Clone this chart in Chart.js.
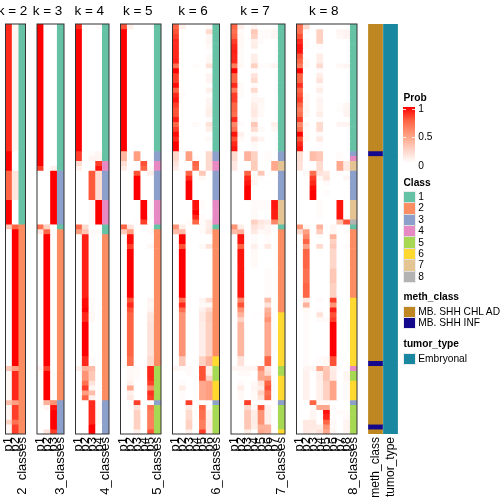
<!DOCTYPE html>
<html lang="en">
<head>
<meta charset="UTF-8">
<title>Consensus classes k = 2 to 8</title>
<script src="https://cdn.jsdelivr.net/npm/chart.js"></script>
<style>
    body { margin: 0; background: #fff; font-family: "Liberation Sans", Arial, sans-serif; color: #000; }
    canvas { position: absolute; top: 0; }
    .lg { position: absolute; white-space: nowrap; line-height: 12px; font-size: 10.2px; }
    .lg.head { font-weight: bold; font-size: 10.2px; }
    .sw { position: absolute; width: 11px; height: 10.4px; outline: 1px solid rgba(0,0,0,0.07); }
</style>
</head>
<body>
<script>
// every row is [number of samples, p1 .. pk, class]
const k2Rows = [
    [26,.9,.05,1],[4,1,0,1],[6,.75,.13,1],[5,1,0,1],[1,.3,.75,2],[28,0,1,2],[1,.3,.5,2],
    [6,.04,.9,2],[1,.35,.5,2],[3,.05,.85,2],[1,.25,.7,2],[2,.05,.85,2]
];
const k3Rows = [
    [29,1,0,0,1],[1,.85,0,.08,1],[11,0,0,1,3],[1,.7,.25,0,1],[1,.12,.75,0,2],[27,0,1,0,2],
    [1,.05,.85,0,2],[6,0,1,0,2],[1,0,.4,.55,3],[1,0,.05,.95,3],[4,0,0,1,3],[1,0,.15,.85,3]
];
const k4Rows = [
    [1,.9,0,0,.02,1],[25,1,0,0,0,1],[1,.85,0,.02,.05,1],[1,.85,0,.06,.06,1],[1,.2,0,0,.85,4],
    [1,.08,0,0,.95,4],[6,0,0,.78,.18,3],[5,0,0,.02,1,4],[1,.75,.2,0,0,1],[1,.5,.3,.03,.03,1],
    [13,0,.92,.01,0,2],[2,0,.97,.02,0,2],[1,0,1,.02,0,2],[2,0,.9,.04,0,2],[7,0,1,0,0,2],
    [2,0,.9,.02,0,2],[1,.08,.4,.35,0,2],[2,0,.55,.3,0,2],[1,0,.7,.15,0,2],[1,0,.85,.05,0,2],
    [1,0,.5,.35,0,2],[1,0,.75,.08,0,2],[2,0,0,.9,.03,3],[3,0,0,.9,.04,3],[2,0,0,1,0,3]
];
const k5Rows = [
    [1,.8,.08,0,0,0,1],[25,1,0,0,0,0,1],[2,.38,0,.5,0,0,3],[1,.18,0,0,.8,0,4],[1,.1,0,0,.75,.03,4],
    [1,0,0,.8,0,.08,3],[5,0,0,1,0,0,3],[4,0,0,0,1,.02,4],[1,0,0,.01,.85,0,4],[1,.75,.15,0,0,.01,1],
    [1,.28,.5,0,0,.03,2],[2,0,.97,0,0,0,2],[1,0,.85,0,0,.04,2],[10,0,1,0,0,0,2],[1,0,.8,0,0,.06,2],
    [1,0,.9,0,0,.04,2],[1,0,.8,0,0,.06,2],[2,0,.75,0,0,.13,2],[7,0,.75,0,0,.15,2],[2,0,.7,0,0,.2,2],
    [1,0,.03,.03,0,.9,5],[2,0,.04,.02,0,.9,5],[1,0,.08,0,0,.85,5],[1,0,.45,0,0,.6,5],[1,0,.07,0,0,.88,5],
    [1,0,.12,0,0,.85,5],[1,0,0,.85,0,0,3],[1,0,.02,.15,0,.7,5],[4,0,0,.25,0,.65,5],[1,0,0,.08,0,.8,5]
];
const k6Rows = [
    [1,.75,.08,0,0,0,.03,1],[1,.8,0,0,0,0,.2,1],[1,.85,0,0,0,0,.05,1],[1,.9,0,0,0,0,.05,1],
    [1,.9,0,0,0,0,.03,1],[1,.9,0,0,0,0,.01,1],[1,.9,0,0,0,0,.03,1],[1,.92,0,0,0,0,.04,1],
    [1,.7,0,0,.02,0,.15,1],[1,1,0,0,0,0,0,1],[2,.85,0,0,0,0,.06,1],[1,.97,0,0,0,0,.01,1],
    [1,.75,0,0,0,0,.08,1],[1,.9,.02,0,0,0,.01,1],[1,.95,0,0,0,0,.05,1],[1,.85,0,0,0,0,.06,1],
    [2,.8,0,0,0,0,.08,1],[1,.93,0,0,0,0,.02,1],[1,.75,0,0,.03,0,.15,1],[1,.85,0,0,0,0,.1,1],
    [1,.97,0,0,0,0,0,1],[1,.9,0,0,0,0,.03,1],[2,1,0,0,0,0,0,1],
    [1,.22,0,.5,0,0,.2,3],[1,.22,0,.5,.02,0,.2,3],[1,.15,0,0,.75,0,.2,4],[1,.1,0,0,.7,0,.2,4],
    [1,0,0,.75,0,.3,0,3],[1,0,0,.9,0,.04,0,3],[4,0,0,1,0,0,0,3],[2,0,0,0,.95,.02,0,4],
    [1,0,0,0,1,0,0,4],[1,0,0,0,.9,.02,0,4],[1,0,0,.02,.75,.02,.1,4],[1,.55,.1,0,0,.02,.1,1],
    [1,.35,.35,0,0,.03,.13,2],[2,0,1,0,0,0,0,2],[1,0,.8,0,0,.03,.15,2],[10,0,1,0,0,0,0,2],
    [1,0,.7,0,0,.05,.2,2],[1,0,.9,0,0,.03,.04,2],[1,0,.7,0,0,.08,.2,2],[2,0,.55,0,0,.12,.27,2],
    [7,0,.55,0,0,.1,.25,2],[2,0,.3,0,0,.25,.4,6],[1,.05,.03,.03,0,.8,.1,5],[1,0,0,.03,0,.8,.1,5],
    [1,0,0,0,0,.8,.25,5],[1,0,.02,0,0,.45,.5,6],[1,0,.1,0,0,.45,.5,6],[2,0,.02,0,0,.45,.5,6],
    [1,0,0,.85,0,0,0,3],[1,0,0,.12,0,.75,.03,5],[2,0,0,.2,0,.7,.1,5],[2,0,0,.25,0,.65,.12,5],
    [1,0,0,.08,0,.85,.1,5]
];
const k7Rows = [
    [1,.75,.08,0,.05,0,0,0,1],[1,.7,.02,0,.3,.02,.02,.05,1],[1,.75,.04,0,.25,.02,.02,.05,1],
    [1,.85,.04,0,.08,.02,0,0,1],[1,.9,.03,0,.1,0,0,0,1],[1,.92,.02,0,.01,0,0,0,1],
    [2,.9,.02,0,.1,0,0,0,1],[1,.65,.04,0,.25,.02,.02,.06,1],[1,1,0,0,.02,0,0,0,1],
    [1,.75,0,0,.15,0,0,0,1],[1,.75,0,0,.2,0,0,0,1],[1,.9,.03,0,.03,0,0,0,1],
    [1,.65,.02,0,.2,0,0,.01,1],[1,.85,.02,0,.04,0,0,0,1],[1,.85,0,0,.05,.05,0,0,1],
    [1,.75,0,0,.1,.03,0,0,1],[1,.75,0,0,.12,.03,0,0,1],[1,.7,0,0,.12,.03,0,0,1],
    [1,.9,.01,0,.06,0,0,0,1],[1,.6,.02,0,.3,0,0,.08,1],[1,.7,0,0,.2,.03,0,.04,1],
    [1,.95,.08,0,.03,0,0,0,1],[1,.8,.03,0,.15,.06,0,0,1],[1,.9,0,0,.04,0,0,0,1],[1,.95,0,0,.02,0,0,0,1],
    [2,.2,0,.4,.25,0,.02,0,3],[2,.12,0,0,.28,0,0,.45,7],[1,0,0,.75,0,.3,0,0,3],
    [1,0,0,.9,.04,.02,0,0,3],[1,0,0,.95,.05,0,.01,0,3],[3,0,0,1,0,0,0,0,3],
    [2,0,0,0,.02,.02,.02,.95,7],[2,0,0,0,.03,0,0,.93,7],[1,0,0,0,.25,.13,.1,.6,7],
    [1,.55,.1,0,.15,.1,.05,0,1],[1,.35,.4,0,.12,.03,.05,0,2],[2,0,.95,0,.02,0,.02,0,2],
    [1,0,.75,0,.08,.01,.12,0,2],[4,0,.95,0,.03,0,0,0,2],[6,0,.95,0,0,0,.02,0,2],
    [1,0,.6,0,0,0,.35,0,2],[1,0,.8,0,0,0,.15,0,2],[1,0,.55,0,0,0,.4,0,2],
    [1,0,.4,0,.01,.01,.45,0,6],[1,0,.25,0,0,0,.55,0,6],[7,0,.38,0,0,0,.45,0,6],[2,0,.15,0,0,0,.75,0,6],
    [1,.05,.05,.05,.05,.6,.15,0,5],[1,0,.03,.03,0,.45,.2,0,5],[1,0,0,0,0,.45,.5,0,6],
    [1,0,.03,0,.03,.15,.75,0,6],[1,0,.1,0,.05,.1,.8,0,6],[1,0,.04,0,.03,.25,.7,0,6],
    [1,0,.03,0,.03,.15,.75,0,6],[1,0,0,.85,0,0,0,0,3],[1,0,0,.2,.04,.8,.08,0,5],
    [3,0,0,.3,.1,.55,.08,0,5],[1,0,0,.3,.1,.4,.4,0,5],[1,0,0,.1,0,.45,.4,0,6]
];
const k8Rows = [
    [1,.7,.2,0,0,0,0,0,0,1],[1,.7,.02,0,.25,0,0,.05,.06,1],[1,.8,0,0,.25,0,0,.04,.06,1],
    [1,.9,.03,0,.25,0,0,0,0,1],[1,.95,.03,0,.02,0,0,0,0,1],[1,.95,0,0,.01,0,0,0,0,1],
    [1,.8,0,0,.1,0,0,0,0,1],[1,.75,.03,0,.1,0,0,0,0,1],[1,.65,.04,0,.2,0,0,.04,.05,1],
    [1,1,0,0,.02,0,0,0,0,1],[1,.75,.01,0,.1,0,0,0,0,1],[1,.75,0,0,.15,0,0,0,0,1],
    [1,.88,0,0,.03,0,0,0,0,1],[1,.75,0,0,.1,0,0,0,0,1],[1,.8,.03,0,.02,0,0,0,0,1],
    [1,.85,.03,0,.06,0,0,0,0,1],[1,.75,.04,0,.05,0,0,.01,.05,1],[1,.65,.05,0,.06,0,0,.02,.06,1],
    [1,.7,.04,0,.1,0,0,0,.06,1],[1,.85,0,0,.02,0,0,0,0,1],[1,.6,.05,0,.2,0,0,.06,.06,1],
    [1,.7,.02,.01,.2,0,0,0,0,1],[1,1,.02,0,.03,0,0,0,0,1],[1,.8,.04,0,.12,0,0,0,0,1],
    [1,.9,0,0,.02,0,0,0,0,1],[1,.95,0,0,.01,0,0,0,0,1],
    [1,.18,0,.35,.3,0,0,.02,0,3],[1,.18,0,.35,.3,0,0,.02,0,4],[2,.15,0,0,.2,0,0,.45,.12,7],
    [1,0,.04,.7,.15,.12,0,.02,0,3],[1,0,0,.85,.04,.15,0,0,.05,3],[1,0,0,.9,0,.03,0,0,0,3],
    [1,0,0,.97,0,0,0,0,0,3],[1,0,0,1,0,.02,0,0,0,3],[1,0,0,1,0,0,0,0,0,3],
    [4,0,0,0,.02,0,0,.95,0,7],[1,0,0,0,0,0,0,.33,.8,8],[1,.55,.05,0,.4,0,.05,0,0,1],
    [1,.2,.5,0,.27,0,.05,0,.02,2],[1,0,.6,0,.02,0,.4,0,0,2],[1,0,.75,0,0,0,.25,0,0,2],
    [1,0,.5,0,.2,0,.3,0,.02,2],[4,0,.75,0,0,0,.22,0,0,2],[3,0,.7,0,0,0,.3,0,0,2],[3,0,.75,0,0,0,.25,0,0,2],
    [1,0,.12,0,.02,0,.85,0,0,6],[1,0,.4,0,0,0,.55,0,0,6],[1,0,.04,0,.02,0,.93,0,0,6],
    [1,0,.02,0,.15,0,.8,0,0,6],[1,0,.02,0,.03,.02,.85,0,0,6],[7,0,.02,0,0,0,1,0,0,6],
    [2,0,.02,0,.02,.04,.8,0,0,6],[1,0,.05,.05,.45,.3,.1,.02,0,4],[2,0,.07,0,.1,.32,.12,0,.05,5],
    [4,0,.07,0,.08,.25,.47,0,.03,6],[1,0,0,.75,.03,.03,0,0,0,3],[1,0,0,.02,.45,.45,.02,0,0,5],
    [1,0,0,.05,0,.95,0,.02,.02,5],[1,0,0,.05,0,.9,0,0,.03,5],[1,0,.12,.12,0,.75,.03,0,.06,5],
    [1,0,.12,.12,.1,.55,.03,0,.06,5],[1,0,.12,.1,.15,.45,.05,0,.06,5]
];
const kValues = [2, 3, 4, 5, 6, 7, 8];
const methBlocks = [26, 1, 42, 1, 12, 1, 1];
const methClasses = [0, 1, 0, 1, 0, 1, 0];
const annotationNames = ["meth_class", "tumor_type"];
const classLabels = ["1", "2", "3", "4", "5", "6", "7", "8"];
const methLabels = ["MB. SHH CHL AD", "MB. SHH INF"];
const tumorLabels = ["Embryonal"];
const probTicks = ["1", "0.5", "0"];

const classColors = ["#66C2A5", "#FC8D62", "#8DA0CB", "#E78AC3", "#A6D854", "#FFD92F", "#E5C494", "#B3B3B3"];
const methColors = ["#BE8721", "#14098C"];
const tumorColor = "#19879F";
const probStops = [[255,255,255], [255,209,195], [255,158,129], [255,101,68], [255,0,0]];

const TOTAL = 84;
const TOP = 24, BOTTOM_H = 70, HEIGHT = 504;
const panelBoxes = [[5.5,25.5],[37,64],[75.5,109],[120.5,161],[172.5,219.5],[231,285],[296.5,357]];

function probColor(v) {
    const t = v * (probStops.length - 1);
    const i = Math.min(Math.floor(t), probStops.length - 2);
    const f = t - i;
    const c = probStops[i].map((a, n) => Math.round(a + (probStops[i + 1][n] - a) * f));
    return "rgb(" + c.join(",") + ")";
}

// frame round the heatmap, and title a bit left of the panel centre like the original
const framePlugin = {
    id: "frame",
    afterLayout(chart) {
        if (chart.titleBlock) {
            chart.titleBlock.left -= 23;
            chart.titleBlock.right += 17;
        }
    },
    afterDatasetsDraw(chart) {
        const a = chart.chartArea, ctx = chart.ctx;
        ctx.save();
        ctx.strokeStyle = "#333";
        ctx.lineWidth = 1;
        ctx.strokeRect(a.left, a.top, a.right - a.left, a.bottom - a.top);
        ctx.restore();
    }
};

function addCanvas(left, width) {
    const c = document.createElement("canvas");
    c.width = width;
    c.height = HEIGHT;
    c.style.left = left + "px";
    document.body.appendChild(c);
    return c;
}

function axisOptions(fontSize) {
    return {
        x: {
            stacked: true,
            grid: { display: false, drawTicks: false },
            border: { display: false },
            ticks: { autoSkip: false, maxRotation: 90, minRotation: 90, padding: 3, color: "#000",
                     font: { family: "Liberation Sans", size: fontSize } },
            afterFit(s) { s.height = BOTTOM_H; s.paddingLeft = 0; s.paddingRight = 0; }
        },
        y: { stacked: true, reverse: true, min: 0, max: TOTAL, display: false }
    };
}

// heatmap panels, one stacked bar per column, one dataset per block of rows
kValues.forEach((k, n) => {
    const rows = [k2Rows, k3Rows, k4Rows, k5Rows, k6Rows, k7Rows, k8Rows][n];
    const box = panelBoxes[n];
    const labels = [];
    for (let i = 1; i <= k; i++) labels.push("p" + i);
    labels.push(k + "_classes");
    const cLeft = Math.max(0, Math.floor(box[0]) - 12);
    const cRight = Math.ceil(box[1]) + (n === 0 ? 2 : 8);
    const datasets = rows.map(r => ({
        data: labels.map(() => r[0]),
        backgroundColor: r.slice(1).map((v, i) => i === k ? classColors[v - 1] : probColor(v)),
        borderWidth: 0,
        barPercentage: 1,
        categoryPercentage: 1
    }));
    new Chart(addCanvas(cLeft, cRight - cLeft), {
        type: "bar",
        data: { labels: labels, datasets: datasets },
        plugins: [framePlugin],
        options: {
            responsive: false,
            animation: false,
            devicePixelRatio: 1,
            layout: { padding: { left: box[0] - cLeft, right: cRight - box[1], top: 0, bottom: 0 } },
            plugins: {
                legend: { display: false },
                tooltip: { enabled: false },
                title: { display: true, text: "k = " + k, color: "#000",
                         font: { family: "Liberation Sans", size: 13.5, weight: "normal" },
                         padding: { top: 3, bottom: 4.8 } }
            },
            scales: axisOptions(13)
        }
    });
});

// annotation columns
const annDatasets = methBlocks.map((count, i) => ({
    data: [count, count],
    backgroundColor: [methColors[methClasses[i]], tumorColor],
    borderWidth: 0,
    barPercentage: 0.94,
    categoryPercentage: 1,
    inflateAmount: 0.33
}));
new Chart(addCanvas(360, 50), {
    type: "bar",
    data: { labels: annotationNames, datasets: annDatasets },
    options: {
        responsive: false,
        animation: false,
        devicePixelRatio: 1,
        layout: { padding: { left: 8, right: 12, top: TOP, bottom: 0 } },
        plugins: { legend: { display: false }, tooltip: { enabled: false } },
        scales: axisOptions(12)
    }
});

// legends on the right
function text(str, x, y, head) {
    const d = document.createElement("div");
    d.className = head ? "lg head" : "lg";
    d.textContent = str;
    d.style.left = x + "px";
    d.style.top = (y - 6) + "px";
    document.body.appendChild(d);
}
function swatch(color, y) {
    const d = document.createElement("div");
    d.className = "sw";
    d.style.left = "403.5px";
    d.style.top = (y - 5.2) + "px";
    d.style.background = color;
    document.body.appendChild(d);
}
const LEG_X = 403.5, LAB_X = 418.3;
text("Prob", LEG_X, 98, true);
const bar = document.createElement("div");
bar.style.cssText = "position:absolute;left:403px;top:107px;width:12px;height:56px;background:linear-gradient(to top," +
    probStops.map(c => "rgb(" + c.join(",") + ")").join(",") + ")";
document.body.appendChild(bar);
[109, 137].forEach(y => [403, 412.3].forEach(x => {
    const t = document.createElement("div");
    t.style.cssText = "position:absolute;height:1px;width:2.7px;background:rgba(255,255,255,.8);left:" + x + "px;top:" + y + "px";
    document.body.appendChild(t);
}));
[109, 137, 165.5].forEach((y, i) => text(probTicks[i], LAB_X, y));

text("Class", LEG_X, 182.7, true);
classLabels.forEach((c, i) => {
    const y = 197 + i * 11.4;
    swatch(classColors[i], y);
    text(c, LAB_X, y);
});
text("meth_class", LEG_X, 297, true);
methLabels.forEach((c, i) => {
    const y = 311.7 + i * 11.6;
    swatch(methColors[i], y);
    text(c, LAB_X, y);
});
text("tumor_type", LEG_X, 344, true);
swatch(tumorColor, 358.7);
text(tumorLabels[0], LAB_X, 358.7);
</script>
</body>
</html>
